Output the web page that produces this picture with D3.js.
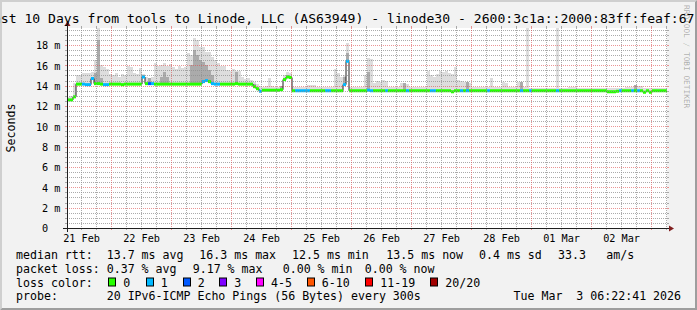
<!DOCTYPE html>
<html><head><meta charset="utf-8">
<script src="https://cdn.jsdelivr.net/npm/d3@7"></script>
<style>
html,body{margin:0;padding:0;background:#f2f2f2;}
svg{display:block;}
text{font-family:"DejaVu Sans Mono",monospace;white-space:pre;}
</style></head><body>
<svg id="chart" width="697" height="310"></svg>
<script>
// ---------------- data ----------------
const titleText = "Last 10 Days from tools to Linode, LLC (AS63949) - linode30 - 2600:3c1a::2000:83ff:feaf:67";
const endTime = Date.UTC(2026, 2, 3, 6, 22, 41);
const spanDays = 10;
const stepSeconds = 4320;
const yTicks = [0, 2, 4, 6, 8, 10, 12, 14, 16, 18];
const yUnit = "m";
const yTitle = "Seconds";

const median = [
 12.6,12.6,12.9,14.15,14.15,14.15,14.1,14.1,14.7,14.2,
 14.2,14.15,14.1,14.1,14.15,14.15,14.15,14.15,14.1,14.15,
 14.15,14.15,14.15,14.15,14.15,14.85,14.2,14.2,14.2,14.15,
 14.15,14.15,14.15,14.15,14.15,14.15,14.15,14.15,14.15,14.15,
 14.15,14.15,14.15,14.15,14.15,14.4,14.5,14.4,14.2,14.15,
 14.15,14.15,14.15,14.15,14.15,14.15,14.2,14.15,14.15,14.15,
 14.15,14.15,13.9,13.7,13.45,13.55,13.55,13.55,13.55,13.55,
 13.55,13.6,14.6,14.85,14.8,13.5,13.5,13.5,13.5,13.5,
 13.5,13.5,13.5,13.5,13.5,13.5,13.5,13.5,13.5,13.5,
 13.5,13.5,14.1,16.4,13.5,13.5,13.5,13.5,13.5,13.5,
 13.55,13.5,13.5,13.5,13.5,13.5,13.5,13.5,13.5,13.5,
 13.5,13.5,13.5,13.5,13.5,13.5,13.5,13.5,13.5,13.5,
 13.5,13.5,13.5,13.5,13.5,13.5,13.5,13.5,13.4,13.5,
 13.5,13.5,13.5,13.5,13.5,13.5,13.5,13.5,13.5,13.5,
 13.5,13.5,13.5,13.5,13.5,13.5,13.5,13.5,13.5,13.5,
 13.5,13.5,13.5,13.5,13.5,13.5,13.5,13.5,13.5,13.5,
 13.5,13.5,13.5,13.5,13.5,13.5,13.5,13.5,13.5,13.5,
 13.5,13.5,13.5,13.5,13.5,13.5,13.5,13.5,13.5,13.5,
 13.4,13.4,13.4,13.45,13.5,13.5,13.5,13.5,13.5,13.5,
 13.5,13.5,13.35,13.5,13.35,13.5,13.5,13.5,13.5,13.5
];
const loss = [
 0,0,0,0,0,1,1,1,1,0, 0,0,1,1,0,0,0,0,0,0,
 0,0,0,0,0,1,0,2,1,0, 0,0,0,0,0,0,0,0,0,0,
 0,0,0,0,0,1,1,0,1,1, 1,0,0,0,0,0,0,0,0,0,
 0,0,0,0,1,0,0,0,0,0, 0,0,0,0,0,0,1,1,1,1,
 1,0,0,0,0,0,1,1,0,0, 0,0,1,1,0,0,0,0,0,0,
 1,1,0,0,0,0,1,0,0,0, 0,0,0,1,0,0,0,0,0,0,
 0,1,1,0,0,0,0,0,0,0, 0,1,0,1,0,0,0,0,0,0,
 1,0,0,0,0,0,0,0,0,0, 0,1,0,0,1,0,0,0,0,0,
 0,0,0,1,0,0,0,0,0,0, 0,0,0,0,0,0,0,0,0,0,
 0,0,0,0,1,0,0,0,1,0, 1,0,0,0,0,0,0,0,0,0
];
const smokeMax = [
 12.9,13.0,14.3,15.0,15.0,15.2,15.2,15.2,15.3,16.5,
 19.8,16.0,15.8,15.6,15.1,15.0,15.2,14.9,15.1,15.0,
 15.9,15.8,15.2,15.1,15.7,15.1,14.9,14.8,14.9,16.2,
 15.9,16.0,16.2,15.9,16.1,15.8,15.6,15.9,15.7,15.8,
 17.2,17.0,18.7,18.5,17.8,17.8,17.3,17.3,16.8,16.5,
 16.2,15.9,15.9,15.5,15.4,15.6,15.4,15.4,14.9,14.7,
 14.8,14.6,14.4,14.2,14.0,13.9,14.0,14.8,14.0,13.9,
 13.9,13.9,15.0,15.3,15.2,13.9,13.9,13.9,13.9,13.9,
 14.1,14.1,14.1,13.9,13.9,13.9,13.9,13.9,13.9,15.6,
 15.2,14.9,15.0,18.2,13.9,13.9,13.9,13.9,13.9,15.0,
 16.7,16.6,14.3,14.5,14.4,14.6,14.5,13.9,13.9,13.9,
 13.9,14.3,14.3,14.2,13.9,13.9,13.9,13.9,13.9,13.9,
 15.4,15.0,14.9,15.1,15.4,15.3,15.4,15.2,15.1,15.8,
 14.6,14.5,14.4,14.4,14.3,13.9,13.9,13.9,13.9,13.9,
 13.9,14.8,13.9,13.9,13.9,14.4,14.3,13.9,13.9,13.9,
 14.4,14.4,13.9,19.7,13.8,13.8,13.8,13.8,13.8,13.8,
 13.8,13.8,13.8,19.7,13.8,13.8,13.8,13.9,13.9,13.9,
 13.8,13.8,13.8,13.8,13.8,13.8,13.8,13.8,13.8,13.8,
 13.8,13.8,13.8,13.8,13.8,13.8,13.9,13.9,13.9,14.1,
 13.95,13.95,13.8,13.8,13.8,13.8,13.8,13.8,13.8,13.8
];
const darkSmokeIdx = [8,9,10,11,25,27,31,32,33,41,42,43,44,45,46,47,48,56,62,71,73,92,93,100,112,133,151,189];
const darkSmokeTop = [14.9,15.2,18.5,14.8,15.0,14.8,14.9,15.3,14.9,16.0,17.5,17.0,16.5,16.3,16.0,15.5,15.0,15.3,14.2,13.95,15.0,14.9,17.2,15.3,14.3,14.4,14.4,14.1];

const lossLabels = ["0","1","2","3","4-5","6-10","11-19","20/20"];
const lossLow    = [0,1,2,3,4,6,11,20];
const lossHigh   = [0,1,2,3,5,10,19,20];
const lossColors = ["#26ff00","#00b8ff","#0059ff","#7e00ff","#ff00ff","#ff5500","#ff0000","#a10000"];

const rttLabel = "median rtt:";
const rttStats = ["13.7 ms avg","16.3 ms max","12.5 ms min","13.5 ms now","0.4 ms sd","33.3","am/s"];
const lossLabel = "packet loss:";
const lossStats = ["0.37 % avg","9.17 % max","0.00 % min","0.00 % now"];
const colorLabel = "loss color:";
const probeLabel = "probe:";
const probeText = "20 IPv6-ICMP Echo Pings (56 Bytes) every 300s";
const stampText = "Tue Mar  3 06:22:41 2026";
const watermark = "RRDTOOL / TOBI OETIKER";

// ---------------- layout ----------------
const W = 697, H = 310;
const L = 67, R = 667, B = 228, T = 28;
const svg = d3.select("#chart");

const t0 = new Date(endTime - spanDays * 864e5);
const x = d3.scaleUtc().domain([t0, new Date(endTime)]).range([L, R]);
const y = d3.scaleLinear().domain([0, 200 / 10.1667]).range([B, T]);
const tAt = i => new Date(t0.getTime() + i * stepSeconds * 1000);
const n = median.length;

// background + bevel
svg.append("rect").attr("width", W).attr("height", H).attr("fill", "#f2f2f2");
svg.append("polygon").attr("points", `0,${H} 2,${H-2} 2,2 ${W-2},2 ${W},0 0,0`).attr("fill", "#cfcfcf");
svg.append("polygon").attr("points", `2,${H-2} ${W-2},${H-2} ${W-2},2 ${W},0 ${W},${H} 0,${H}`).attr("fill", "#9e9e9e");
svg.append("rect").attr("x", L).attr("y", T).attr("width", R - L).attr("height", B - T).attr("fill", "#ffffff");

svg.append("defs").append("clipPath").attr("id", "plotclip")
  .append("rect").attr("x", L).attr("y", T).attr("width", R - L).attr("height", B - T);
const plot = svg.append("g").attr("clip-path", "url(#plotclip)");

// smoke
const idx = d3.range(n);
plot.append("g").selectAll("rect").data(idx).join("rect")
  .attr("x", i => x(tAt(i))).attr("width", i => x(tAt(i + 1)) - x(tAt(i)))
  .attr("y", i => y(smokeMax[i])).attr("height", i => Math.max(0, y(median[i]) - y(smokeMax[i])))
  .attr("fill", "#dddddd").attr("shape-rendering", "crispEdges");
plot.append("g").selectAll("rect").data(darkSmokeIdx.map((d, k) => [d, darkSmokeTop[k]])).join("rect")
  .attr("x", d => x(tAt(d[0]))).attr("width", d => x(tAt(d[0] + 1)) - x(tAt(d[0])))
  .attr("y", d => y(d[1])).attr("height", d => Math.max(0, y(median[d[0]]) - y(d[1])))
  .attr("fill", "#ababab").attr("shape-rendering", "crispEdges");

// median black step line
const pts = idx.map(i => [x(tAt(i)), y(median[i])]);
pts.push([x(tAt(n)), y(median[n - 1])]);
plot.append("path").attr("d", d3.line().curve(d3.curveStepAfter)(pts))
  .attr("fill", "none").attr("stroke", "#202020").attr("stroke-width", 1);

// colored loss bands
const colorOf = v => { for (let k = 0; k < lossLabels.length; k++) if (v >= lossLow[k] && v <= lossHigh[k]) return lossColors[k]; return lossColors[0]; };
plot.append("g").selectAll("rect").data(idx).join("rect")
  .attr("x", i => x(tAt(i))).attr("width", i => x(tAt(i + 1)) - x(tAt(i)))
  .attr("y", i => y(median[i]) - 1.5).attr("height", 3)
  .attr("fill", i => colorOf(loss[i]));

// grid
const gridCol = "rgba(143,143,143,0.75)", mgridCol = "rgba(222,79,79,0.6)";
const grid = svg.append("g").attr("shape-rendering", "crispEdges");
function hGrid(v, col) {
  const yy = Math.round(y(v)) + 0.5;
  grid.append("line").attr("x1", L - 2).attr("x2", L).attr("y1", yy).attr("y2", yy).attr("stroke", col);
  grid.append("line").attr("x1", R).attr("x2", R + 2).attr("y1", yy).attr("y2", yy).attr("stroke", col);
  grid.append("line").attr("x1", L).attr("x2", R).attr("y1", yy).attr("y2", yy).attr("stroke", col).attr("stroke-dasharray", "1,1");
}
function vGrid(t, col) {
  const xx = Math.round(x(t)) + 0.5;
  grid.append("line").attr("x1", xx).attr("x2", xx).attr("y1", B).attr("y2", B + 2).attr("stroke", col);
  grid.append("line").attr("x1", xx).attr("x2", xx).attr("y1", T - 2).attr("y2", T).attr("stroke", col);
  grid.append("line").attr("x1", xx).attr("x2", xx).attr("y1", T).attr("y2", B).attr("stroke", col).attr("stroke-dasharray", "1,1");
}
d3.range(0.5, y.domain()[1], 0.5).filter(v => v % 2 !== 0).forEach(v => hGrid(v, gridCol));
yTicks.filter(v => v > 0).forEach(v => hGrid(v, mgridCol));
d3.utcHour.every(6).range(t0, new Date(endTime)).filter(t => t.getUTCHours() !== 0).forEach(t => vGrid(t, gridCol));
d3.utcDay.range(t0, new Date(endTime)).forEach(t => vGrid(t, mgridCol));

// axes lines + arrows
svg.append("line").attr("x1", L - 4).attr("x2", R + 4).attr("y1", B + 0.5).attr("y2", B + 0.5).attr("stroke", "#1f1f1f").attr("shape-rendering", "crispEdges");
svg.append("line").attr("x1", L + 0.5).attr("x2", L + 0.5).attr("y1", B + 4).attr("y2", T - 4).attr("stroke", "#1f1f1f").attr("shape-rendering", "crispEdges");
svg.append("polygon").attr("points", `${R+2},${B-2.5} ${R+2},${B+3.5} ${R+7},${B+0.5}`).attr("fill", "#801f1f");
svg.append("polygon").attr("points", `${L-2.5},${T-2} ${L+3.5},${T-2} ${L+0.5},${T-7}`).attr("fill", "#801f1f");

// y axis labels
const yAxis = d3.axisLeft(y).tickValues(yTicks).tickSize(0).tickPadding(L - 60.5)
  .tickFormat(v => v === 0 ? "0  " : `${v} ${yUnit}`);
svg.append("g").attr("transform", `translate(${L},0)`).call(yAxis)
  .call(g => g.select(".domain").remove())
  .selectAll("text").attr("font-family", "DejaVu Sans Mono").attr("font-size", "10.2px").attr("fill", "#000").attr("dy", "0.36em");

// x axis labels (centered at noon)
const noons = d3.utcDay.range(d3.utcDay.floor(t0), new Date(endTime)).map(d => d3.utcHour.offset(d, 12)).filter(d => d >= t0 && d <= new Date(endTime));
const xAxis = d3.axisBottom(x).tickValues(noons).tickSize(0).tickPadding(0).tickFormat(d3.utcFormat("%d %b"));
svg.append("g").attr("transform", `translate(0,${B})`).call(xAxis)
  .call(g => g.select(".domain").remove())
  .selectAll("text").attr("font-family", "DejaVu Sans Mono").attr("font-size", "10.2px").attr("fill", "#000").attr("y", 13.7).attr("dy", null);

// y title
svg.append("text").attr("transform", `translate(14.5,${(T + B) / 2}) rotate(-90)`).attr("text-anchor", "middle")
  .attr("font-size", "11.6px").attr("fill", "#000").text(yTitle);

// title
svg.append("text").attr("x", -15).attr("y", 22.7).attr("font-size", "13.1px").attr("fill", "#000").text(titleText);

// watermark
svg.append("text").attr("transform", `translate(690,5) rotate(90)`).attr("y", 6).attr("font-size", "7.8px")
  .attr("fill", "rgba(0,0,0,0.3)").text(watermark);

// legend
const lg = svg.append("g").attr("font-size", "11.6px").attr("fill", "#000");
const rowY = [258.5, 272.5, 286.5, 300.3];
const rttX = [106.7, 199.3, 292, 386.3, 479, 558, 606.3];
const lossX = [106.7, 192.7, 282.7, 364.7];
const swX = [108.3, 145.7, 182.7, 219.3, 256, 306.7, 365.3, 430.3];
lg.append("text").attr("x", 16).attr("y", rowY[0]).text(rttLabel);
rttStats.forEach((s, k) => lg.append("text").attr("x", rttX[k]).attr("y", rowY[0]).text(s));
lg.append("text").attr("x", 16).attr("y", rowY[1]).text(lossLabel);
lossStats.forEach((s, k) => lg.append("text").attr("x", lossX[k]).attr("y", rowY[1]).text(s));
lg.append("text").attr("x", 16).attr("y", rowY[2]).text(colorLabel);
lossLabels.forEach((s, k) => {
  lg.append("rect").attr("x", Math.round(swX[k]) + 0.5).attr("y", rowY[2] - 8.5).attr("width", 7).attr("height", 8)
    .attr("fill", lossColors[k]).attr("stroke", "#000").attr("stroke-width", 1);
  lg.append("text").attr("x", swX[k] + 15).attr("y", rowY[2]).text(s);
});
lg.append("text").attr("x", 16).attr("y", rowY[3]).text(probeLabel);
lg.append("text").attr("x", 106.7).attr("y", rowY[3]).text(probeText);
lg.append("text").attr("x", 513.5).attr("y", rowY[3]).text(stampText);
</script>
</body></html>
